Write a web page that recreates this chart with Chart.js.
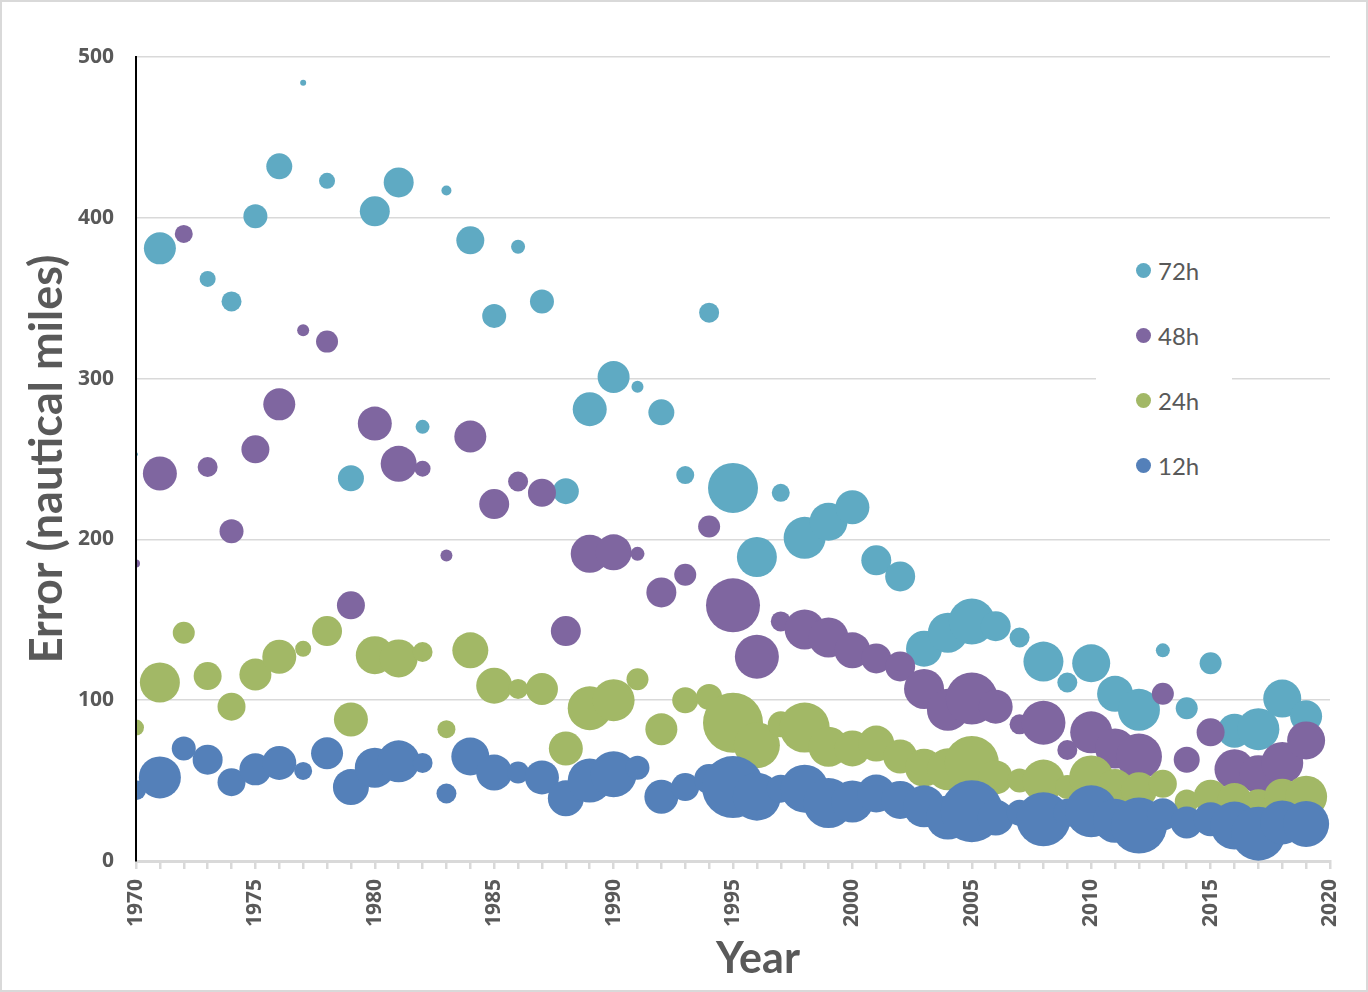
<!DOCTYPE html>
<html>
<head>
<meta charset="utf-8">
<script src="https://cdn.jsdelivr.net/npm/chart.js@4.4.1/dist/chart.umd.min.js"></script>
<style>
  html, body { margin: 0; padding: 0; background: #fff; }
  #wrap { position: relative; width: 1368px; height: 992px; }
  #frame { position: absolute; left: 0; top: 0; right: 0; bottom: 0; border: 2px solid #d9d9d9; pointer-events: none; }
  #legend { position: absolute; left: 1096px; top: 240px; width: 136px; height: 260px; background: #fff;
            font-family: Lato, sans-serif; font-size: 24px; color: #595959; }
  #legend .item { position: absolute; left: 0; height: 30px; display: flex; align-items: center; }
  #legend .dot { width: 15px; height: 15px; border-radius: 50%; margin-left: 40px; margin-right: 7px; }
</style>
</head>
<body>
<div id="wrap">
  <canvas id="bubbleChart"></canvas>
  <div id="legend"></div>
  <div id="frame"></div>
</div>
<script>
const years = [1970, 1971, 1972, 1973, 1974, 1975, 1976, 1977, 1978, 1979,
               1980, 1981, 1982, 1983, 1984, 1985, 1986, 1987, 1988, 1989,
               1990, 1991, 1992, 1993, 1994, 1995, 1996, 1997, 1998, 1999,
               2000, 2001, 2002, 2003, 2004, 2005, 2006, 2007, 2008, 2009,
               2010, 2011, 2012, 2013, 2014, 2015, 2016, 2017, 2018, 2019];

// mean track error (nautical miles)
const err72 = [253, 381, null, 362, 348, 401, 432, 484, 423, 238,
               404, 422, 270, 417, 386, 339, 382, 348, 230, 281,
               301, 295, 279, 240, 341, 232, 189, 229, 201, 211,
               220, 187, 177, 132, 142, 149, 146, 139, 124, 111,
               123, 104, 94, 131, 95, 123, 81, 82, 101, 90];
const err48 = [185, 241, 390, 245, 205, 256, 284, 330, 323, 159,
               272, 247, 244, 190, 264, 222, 236, 229, 143, 191,
               192, 191, 167, 178, 208, 159, 127, 149, 144, 139,
               131, 126, 121, 107, 94, 101, 96, 85, 86, 69,
               80, 70, 65, 104, 63, 80, 57, 54, 61, 75];
const err24 = [83, 111, 142, 115, 96, 116, 127, 132, 143, 88,
               128, 126, 130, 82, 131, 109, 107, 107, 70, 95,
               100, 113, 82, 100, 102, 86, 72, 85, 83, 71,
               70, 73, 65, 58, 57, 61, 52, 50, 50, 46,
               52, 46, 44, 48, 37, 40, 38, 34, 40, 40];
const err12 = [44, 52, 70, 63, 49, 57, 61, 56, 67, 46,
               58, 62, 61, 42, 65, 55, 55, 52, 39, 50,
               54, 58, 40, 46, 51, 46, 40, 45, 45, 36,
               37, 42, 38, 34, 27, 31, 27, 30, 26, 30,
               31, 25, 22, 29, 24, 26, 22, 17, 24, 23];

// bubble sizes (number of forecasts, as bubble radius)
const size72 = [2, 16, 0, 8, 10, 12, 13, 3, 8, 13,
                15, 15, 7, 5, 14, 12, 7, 12, 13, 17,
                16, 6, 13, 9, 10, 25, 20, 9, 21, 19,
                17, 15, 15, 18, 20, 23, 15, 10, 20, 10,
                19, 18, 21, 7, 11, 11, 17, 21, 19, 16];
const size48 = [4, 17, 9, 10, 12, 14, 16, 6, 11, 14,
                17, 18, 8, 6, 16, 15, 10, 14, 15, 19,
                18, 7, 15, 11, 11, 27, 22, 10, 20, 20,
                18, 15, 15, 20, 21, 26, 17, 10, 22, 10,
                21, 20, 23, 11, 13, 14, 20, 19, 21, 19];
const size24 = [8, 20, 11, 14, 14, 16, 17, 8, 15, 17,
                19, 19, 10, 9, 18, 18, 10, 16, 17, 22,
                21, 11, 16, 13, 13, 30, 23, 13, 25, 20,
                18, 18, 17, 19, 21, 27, 17, 12, 21, 12,
                22, 18, 18, 14, 12, 17, 17, 17, 18, 21];
const size12 = [10, 21, 12, 15, 14, 16, 17, 9, 16, 18,
                20, 21, 10, 10, 19, 18, 11, 17, 18, 22,
                23, 12, 17, 14, 15, 31, 24, 14, 24, 25,
                21, 19, 19, 21, 22, 31, 18, 13, 27, 14,
                26, 22, 28, 16, 16, 17, 24, 27, 22, 23];

const yTicks = [0, 100, 200, 300, 400, 500];

const toPoints = (err, size) => years
  .map((yr, i) => ({ x: yr, y: err[i], r: size[i] }))
  .filter(p => p.y !== null);

const FONT = 'Lato, "Open Sans", sans-serif';
const TICK_FONT = '"Open Sans", Lato, sans-serif';
const GREY = '#595959';

// x title sits a little right of centre in the original, so draw it by hand
const yearTitle = {
  id: 'yearTitle',
  afterDraw(chart) {
    const c = chart.ctx;
    c.save();
    c.font = 'bold 43px ' + FONT;
    c.fillStyle = GREY;
    c.textAlign = 'center';
    c.textBaseline = 'alphabetic';
    c.fillText('Year', 758, 973);
    c.restore();
  }
};

const initBubbleChart = () => {
  const ctx = document.getElementById('bubbleChart').getContext('2d');
  // 12h first so it is painted on top, like the original
  const chart = new Chart(ctx, {
    type: 'bubble',
    data: {
      datasets: [
        { label: '12h', data: toPoints(err12, size12), backgroundColor: 'rgb(84,128,185)' },
        { label: '24h', data: toPoints(err24, size24), backgroundColor: 'rgb(162,184,102)' },
        { label: '48h', data: toPoints(err48, size48), backgroundColor: 'rgb(127,102,160)' },
        { label: '72h', data: toPoints(err72, size72), backgroundColor: 'rgb(95,170,195)' }
      ]
    },
    plugins: [yearTitle],
    options: {
      responsive: true,
      maintainAspectRatio: false,
      animation: false,
      layout: { padding: { top: 57, right: 38, bottom: 0, left: 0 } },
      datasets: { bubble: { borderWidth: 0, clip: 0 } },
      plugins: { legend: { display: false }, tooltip: { enabled: false } },
      scales: {
        x: {
          type: 'linear',
          min: 1970,
          max: 2020,
          afterFit: (scale) => { scale.height = 131; },
          grid: { drawOnChartArea: false, drawTicks: true, tickLength: 8, color: '#d9d9d9', lineWidth: 2.5 },
          border: { color: '#d9d9d9', width: 3 },
          ticks: {
            stepSize: 1,
            autoSkip: false,
            minRotation: 90,
            maxRotation: 90,
            padding: 10,
            color: GREY,
            font: { family: TICK_FONT, size: 21, weight: 'bold' },
            callback: (v) => (v % 5 === 0 ? String(v) : '')
          },
          title: { display: false, text: 'Year' }
        },
        y: {
          min: yTicks[0],
          max: yTicks[yTicks.length - 1],
          afterFit: (scale) => { scale.width = 136; },
          afterBuildTicks: (scale) => { scale.ticks = yTicks.map(v => ({ value: v })); },
          grid: { drawTicks: false, color: '#d9d9d9', lineWidth: 1.5 },
          border: { color: '#000', width: 2, z: 1 },
          ticks: {
            padding: 22,
            color: GREY,
            font: { family: TICK_FONT, size: 21, weight: 'bold' }
          },
          title: {
            display: true,
            text: 'Error (nautical miles)',
            color: GREY,
            font: { family: FONT, size: 45, weight: 'bold' },
            padding: { top: 20, bottom: 0 }
          }
        }
      }
    }
  });

  // legend list, 72h at the top
  const legend = document.getElementById('legend');
  chart.data.datasets.slice().reverse().forEach((ds, i) => {
    const item = document.createElement('div');
    item.className = 'item';
    item.style.top = (15 + i * 65) + 'px';
    const dot = document.createElement('span');
    dot.className = 'dot';
    dot.style.background = ds.backgroundColor;
    const txt = document.createElement('span');
    txt.textContent = ds.label;
    item.appendChild(dot);
    item.appendChild(txt);
    legend.appendChild(item);
  });
};

initBubbleChart();
</script>
</body>
</html>
